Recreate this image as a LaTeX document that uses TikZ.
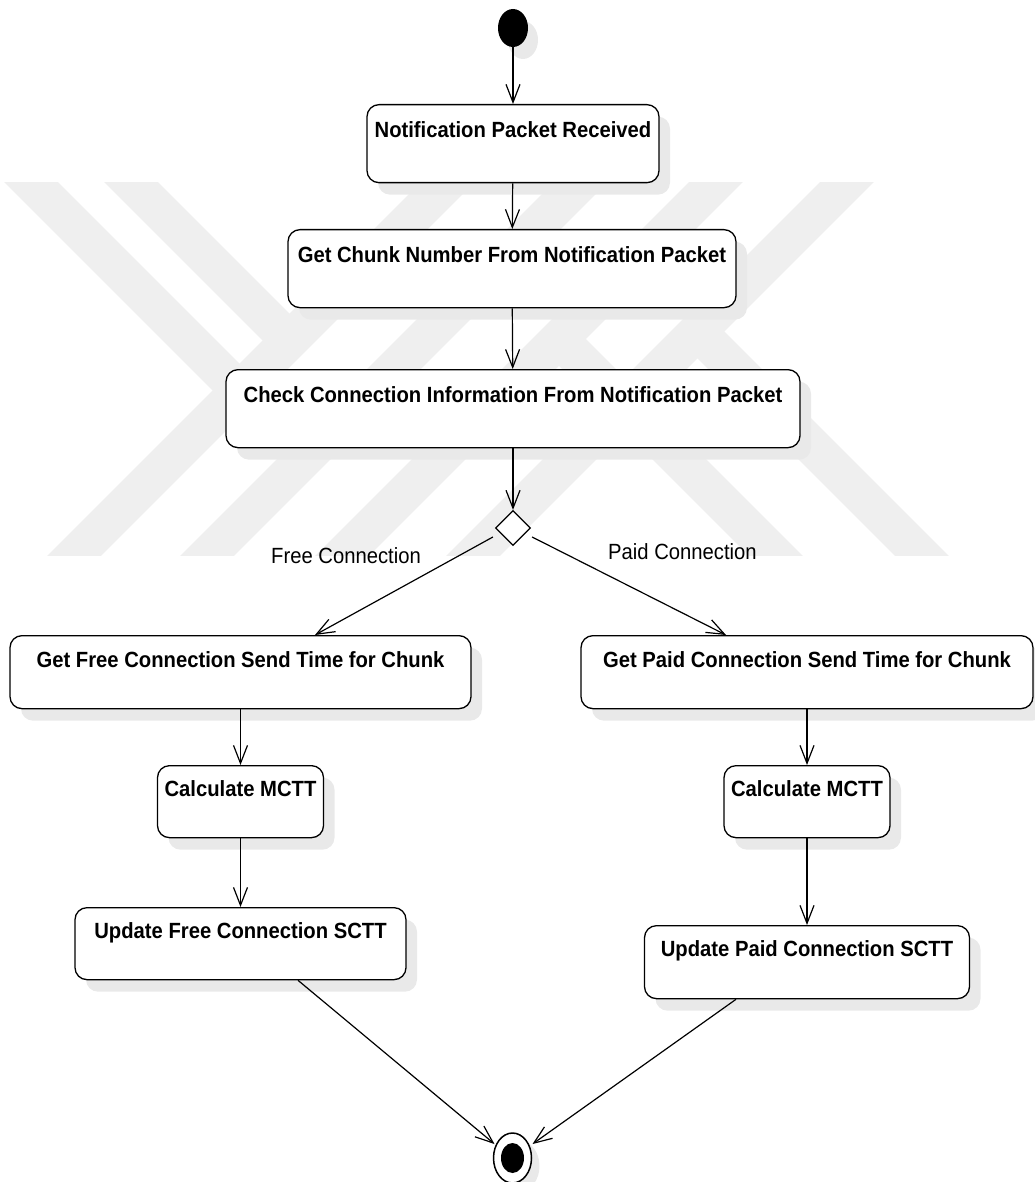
\documentclass[tikz,border=0pt]{standalone}
\usepackage{fontspec}
\setmainfont{Liberation Sans}[FakeStretch=0.92]
\usetikzlibrary{arrows.meta,shapes.geometric,shadows,calc}
\definecolor{wmark}{HTML}{EFEFEF}
\definecolor{shade}{HTML}{E9E9E9}
\begin{document}
\begin{tikzpicture}[x=1pt,y=-1pt,
  actbox/.style={draw, line width=1.3pt, rounded corners=12pt, fill=white,
    anchor=north, inner xsep=0pt, inner ysep=0pt,
    font=\bfseries\fontsize{22pt}{26pt}\selectfont,
    text height=33pt, text depth=45pt,
    drop shadow={shadow xshift=11pt, shadow yshift=-12pt, fill=shade, opacity=1}},
  lowbox/.style={actbox, text height=32pt, text depth=41pt},
  flow/.style={line width=1.2pt,
    -{Straight Barb[length=18pt,width=14pt,line width=1.2pt]}},
  guard/.style={font=\fontsize{22pt}{26pt}\selectfont, anchor=base, inner sep=0pt},
  band/.style={wmark, line width=38pt}
]
\useasboundingbox (0,0) rectangle (1034,1182);

% faint background emblem made of diagonal bands
\begin{scope}
  \clip (0,183) rectangle (1034,555);
  \draw[band] (2,153) -- (239.5,390.5);
  \draw[band] (102,153) -- (289.5,340.5);
  \draw[band] (480,150) -- (40,590);
  \draw[band] (613,150) -- (173,590);
  \draw[band] (748,150) -- (308,590);
  \draw[band] (879,150) -- (439,590);
  \draw[band] (559,339) -- (810,590);
  \draw[band] (697.5,331.5) -- (956,590);
\end{scope}

% initial and final states
\node[ellipse, fill=black, minimum width=30pt, minimum height=38pt, inner sep=0pt,
      drop shadow={shadow xshift=10pt, shadow yshift=-12pt, fill=shade, opacity=1}]
      (start) at (513,28) {};
\node[ellipse, draw, line width=1.5pt, fill=white, minimum width=38pt,
      minimum height=50pt, inner sep=0pt,
      drop shadow={shadow xshift=8pt, shadow yshift=-8pt, fill=shade, opacity=1}]
      (endc) at (512.5,1158) {};
\node[ellipse, fill=black, minimum width=23pt, minimum height=30pt, inner sep=0pt]
      (endin) at (endc) {};

% actions
\node[actbox, minimum width=292pt] (b1) at (513,104) {Notification Packet Received};
\node[actbox, minimum width=448pt] (b2) at (512,229) {Get Chunk Number From Notification Packet};
\node[actbox, minimum width=574pt] (b3) at (513,369) {Check Connection Information From Notification Packet};

\node[diamond, draw, line width=1.2pt, fill=white, minimum width=35pt,
      minimum height=35pt, inner sep=0pt] (dec) at (513,528) {};

\node[lowbox, minimum width=461pt] (free) at (240.5,635) {Get Free Connection Send Time for Chunk};
\node[lowbox, minimum width=166pt, text height=31pt] (calcL) at (240.5,765) {Calculate MCTT};
\node[lowbox, minimum width=331pt, text height=31pt] (updL) at (240.5,907) {Update Free Connection SCTT};

\node[lowbox, minimum width=452pt] (paid) at (807,635) {Get Paid Connection Send Time for Chunk};
\node[lowbox, minimum width=166pt, text height=31pt] (calcR) at (807,765) {Calculate MCTT};
\node[lowbox, minimum width=325pt, text height=31pt, text depth=42pt] (updR) at (807,925) {Update Paid Connection SCTT};

% guard labels
\node[guard] (lfree) at (346,563) {Free Connection};
\node[guard] (lpaid) at (682.5,559) {Paid Connection};

% control flows
\draw[flow] (start) -- (b1);
\draw[flow] (b1) -- (b2);
\draw[flow] (b2) -- (b3);
\draw[flow] (b3) -- (dec);
\draw[flow] ($(dec.west)+(-2,9)$) -- ($(free.north)+(74.5,0)$);
\draw[flow] ($(dec.east)+(1,9)$) -- ($(paid.north)+(-81,0)$);
\draw[flow] (free) -- (calcL);
\draw[flow] (calcL) -- (updL);
\draw[flow] (paid) -- (calcR);
\draw[flow] (calcR) -- (updR);
\draw[flow] ($(updL.south)+(57.5,0)$) -- ($(endc)+(-18,-14)$);
\draw[flow] ($(updR.south)+(-71,0)$) -- ($(endc)+(20,-14)$);
\end{tikzpicture}
\end{document}
